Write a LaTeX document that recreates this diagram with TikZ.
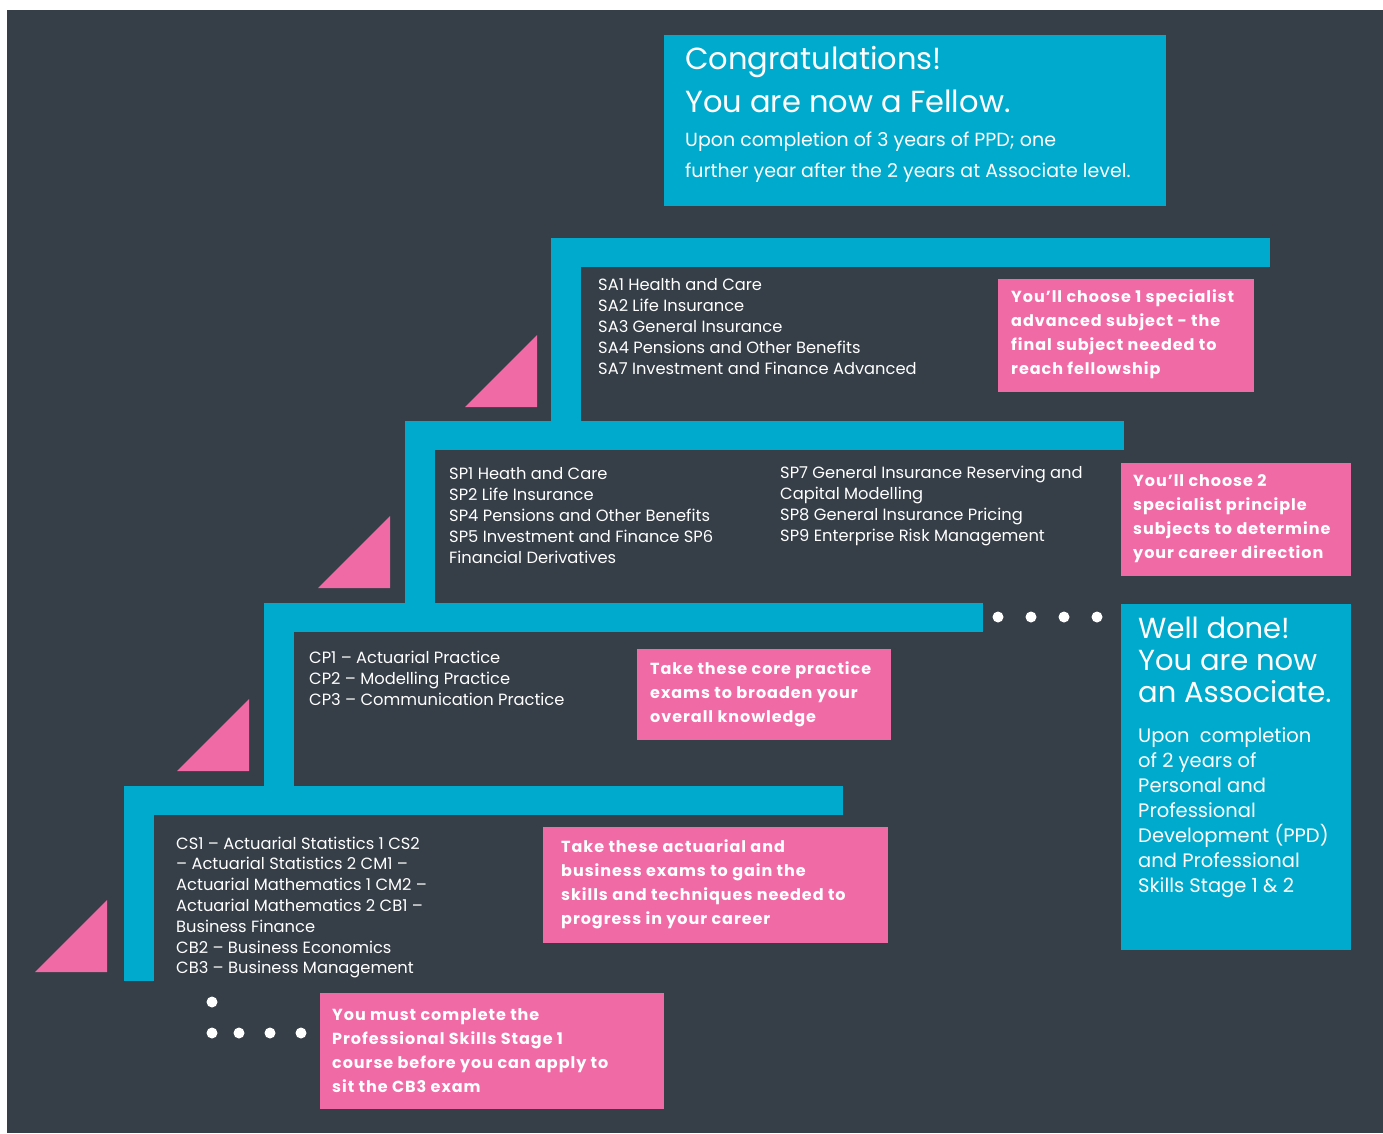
\documentclass[tikz,border=0pt]{standalone}
\usepackage{fontspec}
\setmainfont{Poppins}
\newfontfamily\notefont[LetterSpace=6]{Poppins}
\usetikzlibrary{positioning}
\definecolor{bgc}{HTML}{363E48}
\definecolor{stepc}{HTML}{00AACC}
\definecolor{notec}{HTML}{F06BA6}
% one stair: tread from (x,y), riser down to the given depth
\newcommand{\stairbar}[3]{%
  \fill[stepc] (#1,#2) rectangle ++(719,29);
  \fill[stepc] (#1,#2) rectangle (#1+30,#3);}
\newcommand{\pinktri}[2]{%
  \fill[notec] (#1,#2) -- ++(-72,0) -- ++(72,-72) -- cycle;}
% rows of text: name, x, first baseline, row step, style, lines
\newcommand{\textrows}[6]{%
  \foreach \t [count=\i from 0] in {#6}
    \node[#5] (#1-\i) at (#2,#3+\i*#4) {\t};}
\tikzset{
  rowtext/.style={anchor=base west, inner sep=0pt, text=white},
  listtext/.style={rowtext, font=\fontsize{16.3}{21}\selectfont},
  notetext/.style={rowtext, font=\fontsize{16}{24}\notefont\bfseries},
  notebox/.style={fill=notec, anchor=north west, inner sep=0pt},
  infobox/.style={fill=stepc, anchor=north west, inner sep=0pt},
  headtext/.style={rowtext, font=\fontsize{#1}{32}\selectfont},
}

\begin{document}
\begin{tikzpicture}[x=1pt, y=-1pt]
  \useasboundingbox (0,0) rectangle (1383,1133);
  \fill[bgc] (7,10) rectangle (1383,1133);
  % stairs
  \stairbar{124}{786}{981}
  \stairbar{264}{603}{786}
  \stairbar{405}{421}{603}
  \stairbar{551}{238}{421}
  \pinktri{107}{972}
  \pinktri{249}{771}
  \pinktri{390}{588}
  \pinktri{537}{407}
  % dots
  \fill[white] (212,1002) circle (5.5);
  \foreach \x in {212,239,270,301} \fill[white] (\x,1033) circle (5.5);
  \foreach \x in {998,1031,1064,1097} \fill[white] (\x,617) circle (5.5);
  % subject lists
  \textrows{sa}{598}{290}{21}{listtext}{SA1 Health and Care, SA2 Life Insurance, SA3 General Insurance, SA4 Pensions and Other Benefits, SA7 Investment and Finance Advanced}
  \textrows{sp}{449}{479}{21}{listtext}{SP1 Heath and Care, SP2 Life Insurance, SP4 Pensions and Other Benefits, SP5 Investment and Finance SP6, Financial Derivatives}
  \textrows{spb}{780}{478}{21}{listtext}{SP7 General Insurance Reserving and, Capital Modelling, SP8 General Insurance Pricing, SP9 Enterprise Risk Management}
  \textrows{cp}{309}{663}{21}{listtext}{CP1 -- Actuarial Practice, CP2 -- Modelling Practice, CP3 -- Communication Practice}
  \textrows{cs}{176}{849}{20.8}{listtext}{CS1 -- Actuarial Statistics 1 CS2, -- Actuarial Statistics 2 CM1 --, Actuarial Mathematics 1 CM2 --, Actuarial Mathematics 2 CB1 --, Business Finance, CB2 -- Business Economics, CB3 -- Business Management}
  % pink notes
  \node[notebox, minimum width=256pt, minimum height=113pt] (sabox) at (998,279) {};
  \textrows{sanote}{1011}{302}{24.3}{notetext}{You’ll choose 1 specialist, advanced subject - the, final subject needed to, reach fellowship}
  \node[notebox, minimum width=230pt, minimum height=113pt] (spbox) at (1121,463) {};
  \textrows{spnote}{1133}{486}{24.3}{notetext}{You’ll choose 2, specialist principle, subjects to determine, your career direction}
  \node[notebox, minimum width=254pt, minimum height=91pt] (cpbox) at (637,649) {};
  \textrows{cpnote}{650}{674}{24.3}{notetext}{Take these core practice, exams to broaden your, overall knowledge}
  \node[notebox, minimum width=345pt, minimum height=116pt] (csbox) at (543,827) {};
  \textrows{csnote}{561}{852}{24.3}{notetext}{Take these actuarial and, business exams to gain the, skills and techniques needed to, progress in your career}
  \node[notebox, minimum width=344pt, minimum height=116pt] (psbox) at (320,993) {};
  \textrows{psnote}{332}{1020}{24.3}{notetext}{You must complete the, Professional Skills Stage 1, course before you can apply to, sit the CB3 exam}
  % blue milestones
  \node[infobox, minimum width=502pt, minimum height=171pt] (fellowbox) at (664,35) {};
  \textrows{fellowhead}{685}{69}{43}{headtext=30.5}{Congratulations!, You are now a Fellow.}
  \textrows{fellowtext}{685}{146}{31}{headtext=19}{Upon completion of 3 years of PPD; one, further year after the 2 years at Associate level.}
  \node[infobox, minimum width=230pt, minimum height=346pt] (assocbox) at (1121,604) {};
  \textrows{assochead}{1138}{638}{32}{headtext=29}{Well done!, You are now, an Associate.}
  \textrows{assoctext}{1138}{742}{25}{headtext=19.5}{Upon \ completion, of 2 years of, Personal and, Professional, Development (PPD), and Professional, Skills Stage 1 \& 2}
\end{tikzpicture}
\end{document}
